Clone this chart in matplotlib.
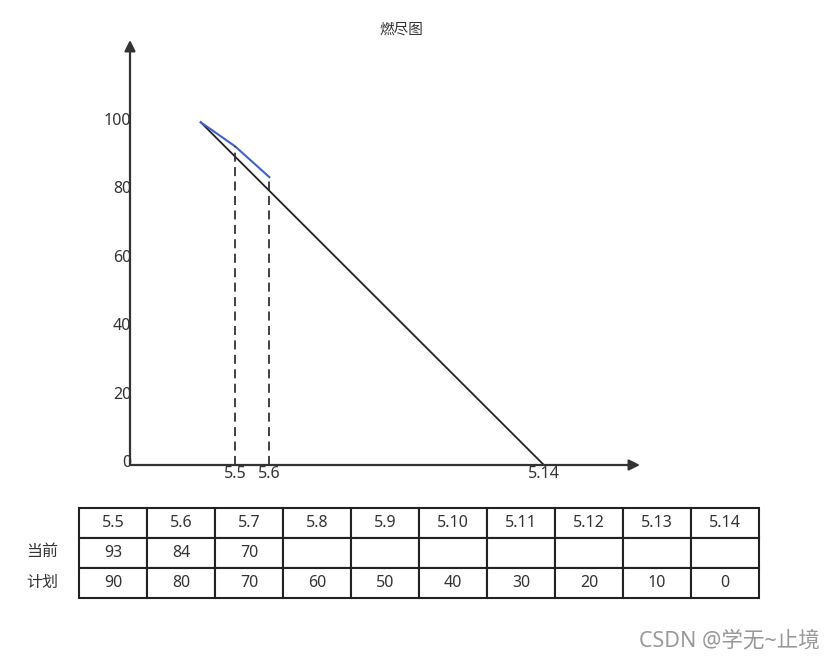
import matplotlib
matplotlib.use('Agg')
import matplotlib.pyplot as plt

plt.rcParams['font.family'] = ['Noto Sans', 'Noto Sans CJK SC', 'DejaVu Sans']

# data
dates = ['5.5', '5.6', '5.7', '5.8', '5.9', '5.10', '5.11', '5.12', '5.13', '5.14']
current = [93, 84, 70]
plan = [90, 80, 70, 60, 50, 40, 30, 20, 10, 0]
start_value = 100
line_days = [4, 5, 6]          # days drawn for the actual (blue) line
plan_days = [4, 14]            # plan line from 5.4 to 5.14
plan_line = [100, 0]
y_ticks = [0, 20, 40, 60, 80, 100]
x_tick_days = [5, 6, 14]
x_tick_labels = ['5.5', '5.6', '5.14']

W, H = 836, 661
fig = plt.figure(figsize=(W / 100, H / 100), dpi=100)

# main chart axes (pixel box 130..640 x 40..465)
ax = fig.add_axes([130 / W, 1 - 465 / H, 510 / W, 425 / H])
ax.set_xlim(1.94, 16.8)
ax.set_ylim(0, 124)
ax.axis('off')

txt = '#333333'
fs = 11.5
# axes with arrows
ax.annotate('', xy=(16.8, 0), xytext=(1.94, 0),
            arrowprops=dict(arrowstyle='-|>', color='#333333', lw=1.6,
                            mutation_scale=16, shrinkA=0, shrinkB=0))
ax.annotate('', xy=(1.94, 124), xytext=(1.94, 0),
            arrowprops=dict(arrowstyle='-|>', color='#333333', lw=1.6,
                            mutation_scale=16, shrinkA=0, shrinkB=0))

# plan line
ax.plot(plan_days, plan_line, color='#222222', lw=1.3)
# actual line
actual = [start_value] + current[:2]
ax.plot(line_days, actual, color='#4060d0', lw=1.5)
# dashed drop lines
for d, v in zip(line_days[1:], actual[1:]):
    ax.plot([d, d], [0, v], color='#333333', lw=1.3, dashes=(5, 3))

for v in y_ticks:
    ax.text(1.97, v + 0.5, str(v), ha='right', va='center', fontsize=fs, color=txt)
for d, lab in zip(x_tick_days, x_tick_labels):
    ax.text(d, -2.6, lab, ha='center', va='center', fontsize=fs, color=txt)

fig.text(401 / W, 1 - 30 / H, '燃尽图', ha='center', va='center', fontsize=10.5, color=txt)

# table
tax = fig.add_axes([79 / W, 1 - 598 / H, 680 / W, 90 / H])
tax.axis('off')
rows = [dates,
        [str(v) for v in current] + [''] * (len(dates) - len(current)),
        [str(v) for v in plan]]
tb = tax.table(cellText=rows, cellLoc='center', bbox=[0, 0, 1, 1])
tb.auto_set_font_size(False)
for cell in tb.get_celld().values():
    cell.set_linewidth(1.5)
    cell.set_edgecolor('#222222')
    cell.get_text().set_fontsize(fs)
    cell.get_text().set_color(txt)

fig.text(42 / W, 1 - 552 / H, '当前', ha='center', va='center', fontsize=fs, color=txt)
fig.text(42 / W, 1 - 583 / H, '计划', ha='center', va='center', fontsize=fs, color=txt)

fig.text(820 / W, 1 - 641 / H, 'CSDN @学无~止境', ha='right', va='center',
         fontsize=15.5, color='#999999')

fig.savefig('out.png', dpi=100)
